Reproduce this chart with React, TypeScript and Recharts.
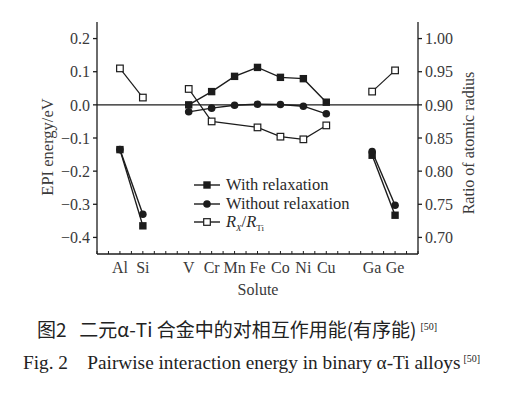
import React from 'react';
import { LineChart, Line, XAxis, YAxis, ReferenceLine, Legend, Label } from 'recharts';

// solutes and their slot on the x axis (gaps between the groups)
const solutes = ['Al', 'Si', 'V', 'Cr', 'Mn', 'Fe', 'Co', 'Ni', 'Cu', 'Ga', 'Ge'];
const slots = [1, 2, 4, 5, 6, 7, 8, 9, 10, 12, 13];
const groups = [['Al', 'Si'], ['V', 'Cr', 'Mn', 'Fe', 'Co', 'Ni', 'Cu'], ['Ga', 'Ge']];

// EPI energy, eV
const withRelax = [-0.135, -0.365, 0.0, 0.04, 0.086, 0.113, 0.083, 0.079, 0.008, -0.152, -0.333];
const withoutRelax = [-0.135, -0.33, -0.021, -0.01, -0.001, 0.002, 0.001, -0.004, -0.027, -0.141, -0.303];
// R_X / R_Ti (no value for Mn)
const radiusRatio = [0.955, 0.911, 0.924, 0.875, null, 0.866, 0.852, 0.848, 0.869, 0.92, 0.952];

const leftTicks = [-0.4, -0.3, -0.2, -0.1, 0, 0.1, 0.2];
const rightTicks = [0.7, 0.75, 0.8, 0.85, 0.9, 0.95, 1.0];
const xTicks = Array.from({ length: 29 }, (_, i) => i / 2);

const SERIF = '"Liberation Serif", "DejaVu Serif", serif';
const INK = '#1c1c1c';
const TXT = '#3a3a3a';

const segment = (values: (number | null)[], names: string[]) =>
  names
    .map(n => solutes.indexOf(n))
    .filter(i => values[i] !== null)
    .map(i => ({ x: slots[i], y: values[i] }));

const FilledSquare = (p: any) => (
  <rect key={p.index} x={p.cx - 3.7} y={p.cy - 3.7} width={7.4} height={7.4} fill={INK} />
);
const FilledCircle = (p: any) => <circle key={p.index} cx={p.cx} cy={p.cy} r={3.8} fill={INK} />;
const OpenSquare = (p: any) => (
  <rect key={p.index} x={p.cx - 3.3} y={p.cy - 3.3} width={6.6} height={6.6} fill="#fff" stroke={INK} strokeWidth={1.2} />
);

const XTick = (props: any) => {
  const { x, y, payload } = props;
  const v = payload.value;
  const idx = slots.indexOf(v);
  return (
    <g>
      <line x1={x} x2={x} y1={y} y2={y - 3} stroke={INK} strokeWidth={1} />
      {idx >= 0 && (
        <text x={x} y={y + 19} textAnchor="middle" fill={TXT} fontSize={16} fontFamily={SERIF}>
          {solutes[idx]}
        </text>
      )}
    </g>
  );
};

const fmtLeft = (v: number) => v.toFixed(1).replace('-', '\u2212');

const LegendRow: React.FC<{ marker: React.ReactNode; children: React.ReactNode }> = ({ marker, children }) => (
  <div style={{ display: 'flex', alignItems: 'center', height: 18.5 }}>
    <svg width={30} height={12} style={{ marginRight: 4 }}>
      <line x1={2} x2={28} y1={6} y2={6} stroke={INK} strokeWidth={1.4} />
      {marker}
    </svg>
    <span>{children}</span>
  </div>
);

const subStyle: React.CSSProperties = { fontSize: 9, position: 'relative', top: 4, lineHeight: 0 };

const LegendBox = () => (
  <div style={{ fontFamily: SERIF, fontSize: 16.5, color: '#2a2a2a', lineHeight: '18px', whiteSpace: 'nowrap' }}>
    <LegendRow marker={<rect x={11.3} y={2.3} width={7.4} height={7.4} fill={INK} />}>With relaxation</LegendRow>
    <LegendRow marker={<circle cx={15} cy={6} r={3.8} fill={INK} />}>Without relaxation</LegendRow>
    <LegendRow marker={<rect x={11.7} y={2.7} width={6.6} height={6.6} fill="#fff" stroke={INK} strokeWidth={1.2} />}>
      <span><i>R</i><span style={subStyle}><i>X</i></span>/<i>R</i><span style={subStyle}>Ti</span></span>
    </LegendRow>
  </div>
);

const tickStyle = { fill: TXT, fontSize: 16, fontFamily: SERIF };

export default function App() {
  return (
    <div style={{ position: 'absolute', left: 0, top: 0, width: 516, height: 397, background: '#fff', fontFamily: SERIF }}>
      <LineChart width={516} height={300} margin={{ top: 22, left: 47, right: 38, bottom: 0 }} style={{ fontFamily: SERIF }}>
        <XAxis
          type="number"
          dataKey="x"
          domain={[0, 14]}
          ticks={xTicks}
          interval={0}
          tick={<XTick />}
          tickLine={false}
          tickSize={0}
          tickMargin={0}
          height={46}
          stroke={INK}
          strokeWidth={1.3}
          allowDataOverflow
        >
          <Label
            content={() => (
              <text x={258} y={295} textAnchor="middle" fill={TXT} fontSize={16} fontFamily={SERIF}>
                Solute
              </text>
            )}
          />
        </XAxis>
        <XAxis xAxisId="top" orientation="top" type="number" domain={[0, 14]} tick={false} tickLine={false} height={0} stroke={INK} strokeWidth={1.3} />
        <YAxis
          yAxisId="left"
          domain={[-0.45, 0.25]}
          ticks={leftTicks}
          tickFormatter={fmtLeft}
          width={50}
          tickSize={4}
          tickMargin={3}
          stroke={INK}
          strokeWidth={1.3}
          tick={tickStyle}
          allowDataOverflow
        >
          <Label
            content={() => (
              <text transform="translate(53,147) rotate(-90)" textAnchor="middle" fill={TXT} fontSize={16.5} fontFamily={SERIF}>
                EPI energy/eV
              </text>
            )}
          />
        </YAxis>
        <YAxis
          yAxisId="right"
          orientation="right"
          domain={[0.675, 1.025]}
          ticks={rightTicks}
          tickFormatter={(v: number) => v.toFixed(2)}
          width={60}
          tickSize={4}
          tickMargin={3}
          stroke={INK}
          strokeWidth={1.3}
          tick={tickStyle}
          allowDataOverflow
        >
          <Label
            content={() => (
              <text transform="translate(474,143) rotate(-90)" textAnchor="middle" fill={TXT} fontSize={16} fontFamily={SERIF}>
                Ratio of atomic radius
              </text>
            )}
          />
        </YAxis>
        <ReferenceLine yAxisId="left" y={0} stroke={INK} strokeWidth={1.3} />
        {groups.map((g, gi) => (
          <Line key={'w' + gi} yAxisId="left" data={segment(withRelax, g)} dataKey="y" stroke={INK} strokeWidth={1.4} dot={FilledSquare} activeDot={false} isAnimationActive={false} />
        ))}
        {groups.map((g, gi) => (
          <Line key={'n' + gi} yAxisId="left" data={segment(withoutRelax, g)} dataKey="y" stroke={INK} strokeWidth={1.4} dot={FilledCircle} activeDot={false} isAnimationActive={false} />
        ))}
        {groups.map((g, gi) => (
          <Line key={'r' + gi} yAxisId="right" data={segment(radiusRatio, g)} dataKey="y" stroke={INK} strokeWidth={1.2} dot={OpenSquare} activeDot={false} isAnimationActive={false} />
        ))}
        <Legend
          layout="vertical"
          align="center"
          verticalAlign="middle"
          content={<LegendBox />}
          wrapperStyle={{ position: 'absolute', left: 192, top: 176, width: 'auto', height: 'auto', margin: 0 }}
        />
      </LineChart>
      <div style={{ position: 'absolute', left: 37, top: 316, fontFamily: '"Noto Sans CJK SC", sans-serif', fontSize: 19, lineHeight: '22px', color: '#222', whiteSpace: 'nowrap' }}>
        图2&nbsp;&nbsp;&nbsp;二元α-Ti 合金中的对相互作用能(有序能)<sup style={{ fontSize: 10, fontFamily: SERIF, marginLeft: 4 }}>[50]</sup>
      </div>
      <div style={{ position: 'absolute', left: 23, top: 348, fontFamily: SERIF, fontSize: 19.3, lineHeight: '22px', color: '#222', whiteSpace: 'nowrap' }}>
        Fig. 2&nbsp;&nbsp;&nbsp;&nbsp;Pairwise interaction energy in binary α-Ti alloys<sup style={{ fontSize: 10, marginLeft: 3 }}>[50]</sup>
      </div>
    </div>
  );
}
